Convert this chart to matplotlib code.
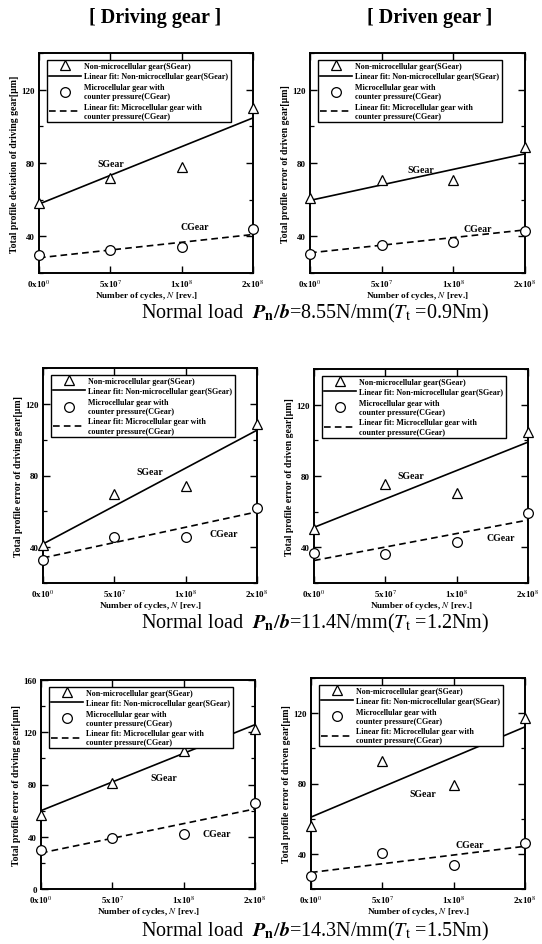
import matplotlib
matplotlib.use("Agg")
import matplotlib.pyplot as plt
from matplotlib.ticker import MultipleLocator

plt.rcParams['font.family'] = ['Liberation Serif', 'DejaVu Serif']
plt.rcParams['mathtext.fontset'] = 'stix'

# ---------------- data ----------------
x_labels = [r"0x10$^{0}$", r"5x10$^{7}$", r"1x10$^{8}$", r"2x10$^{8}$"]
x_pos = [0, 1, 2, 3]
fit_x = [0, 3]

# Driving gear, 8.55 N/mm
drv1_s = [58, 72, 78, 110]
drv1_c = [29.6, 32.8, 34.3, 44]
drv1_sfit = [57.6, 104.6]
drv1_cfit = [28.3, 41]
# Driven gear, 8.55 N/mm
dvn1_s = [61, 70.7, 70.7, 88.6]
dvn1_c = [30.2, 35.5, 37, 43]
dvn1_sfit = [59.6, 85]
dvn1_cfit = [31, 43.5]
# Driving gear, 11.4 N/mm
drv2_s = [41, 69.7, 74, 108.6]
drv2_c = [32.6, 45.5, 45.8, 62]
drv2_sfit = [41.8, 105.3]
drv2_cfit = [34, 59.7]
# Driven gear, 11.4 N/mm
dvn2_s = [50.2, 75.3, 70.7, 104.6]
dvn2_c = [36.7, 36.3, 43.2, 59.2]
dvn2_sfit = [51.2, 99]
dvn2_cfit = [32.6, 55.3]
# Driving gear, 14.3 N/mm
drv3_s = [56.7, 81.5, 106, 122.3]
drv3_c = [29.6, 39, 42.3, 65.8]
drv3_sfit = [60, 125.8]
drv3_cfit = [27.6, 61.3]
# Driven gear, 14.3 N/mm
dvn3_s = [55.7, 92.7, 78.9, 117.2]
dvn3_c = [27.2, 40.5, 33.5, 46]
dvn3_sfit = [60.9, 112.2]
dvn3_cfit = [29.4, 44.3]

ylabels = ["Total profile deviation of driving gear[μm]",
           "Total profile error of driven gear[μm]",
           "Total profile error of driving gear[μm]",
           "Total profile error of driven gear[μm]",
           "Total profile error of driving gear[μm]",
           "Total profile error of driven gear[μm]"]

legend_labels = ["Non-microcellular gear(SGear)",
                 "Linear fit: Non-microcellular gear(SGear)",
                 "Microcellular gear with\ncounter pressure(CGear)",
                 "Linear fit: Microcellular gear with\ncounter pressure(CGear)"]

captions = [r"Normal load  $\mathbfit{P}_{\mathbf{n}}/\mathbfit{b}$=8.55N/mm($\mathit{T}_{\mathrm{t}}$ =0.9Nm)",
            r"Normal load  $\mathbfit{P}_{\mathbf{n}}/\mathbfit{b}$=11.4N/mm($\mathit{T}_{\mathrm{t}}$ =1.2Nm)",
            r"Normal load  $\mathbfit{P}_{\mathbf{n}}/\mathbfit{b}$=14.3N/mm($\mathit{T}_{\mathrm{t}}$ =1.5Nm)"]

# ---------------- layout ----------------
W, H = 542, 945
fig = plt.figure(figsize=(W / 100, H / 100), dpi=100)

def rect(l, r, t, b):
    return [l / W, 1 - b / H, (r - l) / W, (b - t) / H]

panels = [
    dict(r=rect(39, 253, 54, 274), s=drv1_s, c=drv1_c, sf=drv1_sfit, cf=drv1_cfit,
         yl=(20, 140), st=(1.01, 79.5), ct=(2.18, 45.4)),
    dict(r=rect(310, 525, 54, 274), s=dvn1_s, c=dvn1_c, sf=dvn1_sfit, cf=dvn1_cfit,
         yl=(20, 140), st=(1.55, 76.6), ct=(2.34, 44.5)),
    dict(r=rect(43, 257, 369, 584), s=drv2_s, c=drv2_c, sf=drv2_sfit, cf=drv2_cfit,
         yl=(20, 140), st=(1.5, 82.3), ct=(2.53, 47.4)),
    dict(r=rect(314, 528, 370, 584), s=dvn2_s, c=dvn2_c, sf=dvn2_sfit, cf=dvn2_cfit,
         yl=(20, 140), st=(1.36, 80), ct=(2.62, 45.6)),
    dict(r=rect(41, 255, 681, 890), s=drv3_s, c=drv3_c, sf=drv3_sfit, cf=drv3_cfit,
         yl=(0, 160), st=(1.72, 85.3), ct=(2.46, 42.3)),
    dict(r=rect(311, 525, 679, 890), s=dvn3_s, c=dvn3_c, sf=dvn3_sfit, cf=dvn3_cfit,
         yl=(20, 140), st=(1.57, 74.2), ct=(2.22, 45.2)),
]

for i, p in enumerate(panels):
    ax = fig.add_axes(p['r'])
    h1, = ax.plot(x_pos, p['s'], linestyle='none', marker='^', ms=6.5, mfc='white',
                  mec='black', mew=0.9, clip_on=False, zorder=5)
    h2, = ax.plot(fit_x, p['sf'], color='black', lw=1.2, zorder=4)
    h3, = ax.plot(x_pos, p['c'], linestyle='none', marker='o', ms=7, mfc='white',
                  mec='black', mew=0.9, clip_on=False, zorder=5)
    h4, = ax.plot(fit_x, p['cf'], color='black', lw=1.2, ls=(0, (4, 2.5)), zorder=4)
    ax.set_xlim(0, 3)
    ax.set_ylim(*p['yl'])
    ax.set_xticks(x_pos)
    ax.set_xticklabels(x_labels, fontsize=6.5, fontweight='bold')
    ax.yaxis.set_major_locator(MultipleLocator(40))
    ax.yaxis.set_minor_locator(MultipleLocator(20))
    ax.tick_params(axis='both', which='both', direction='in', top=True, right=True)
    ax.tick_params(axis='both', which='major', length=5, width=1.0, labelsize=6.5, pad=3)
    ax.tick_params(axis='y', which='minor', length=3, width=0.9)
    for lab in ax.get_yticklabels():
        lab.set_fontweight('bold')
    for sp in ax.spines.values():
        sp.set_linewidth(1.4)
    ax.set_xlabel(r"Number of cycles, $\mathit{N}$ [rev.]", fontsize=6.6, fontweight='bold', labelpad=0.5)
    ax.set_ylabel(ylabels[i], fontsize=7.0, fontweight='bold', labelpad=2)
    ax.text(p['st'][0], p['st'][1], "SGear", fontsize=7, fontweight='bold', ha='center', va='center')
    ax.text(p['ct'][0], p['ct'][1], "CGear", fontsize=7, fontweight='bold', ha='center', va='center')
    leg = ax.legend([h1, h2, h3, h4], legend_labels, loc='upper left',
                    bbox_to_anchor=(0.037, 0.968),
                    prop={'family': 'Liberation Serif', 'weight': 'bold', 'size': 5.8},
                    frameon=True, fancybox=False, edgecolor='black', framealpha=1,
                    handlelength=4.0, handletextpad=0.4, labelspacing=0.3,
                    borderpad=0.25, borderaxespad=0)
    leg.get_frame().set_linewidth(1.0)

fig.text(155 / W, 1 - 18 / H, "[ Driving gear ]", fontsize=14.5, fontweight='bold',
         ha='center', va='center')
fig.text(430 / W, 1 - 18 / H, "[ Driven gear ]", fontsize=14.5, fontweight='bold',
         ha='center', va='center')

for cy, cap in zip([318, 628, 936], captions):
    fig.text(315 / W, 1 - cy / H, cap, fontsize=14.5, ha='center', va='baseline')

fig.savefig("out.png", dpi=100, facecolor='white')
